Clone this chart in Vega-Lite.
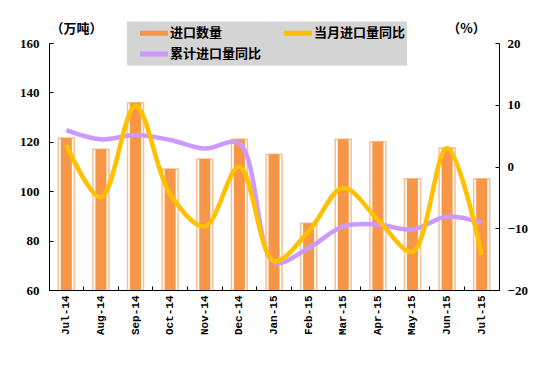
{
  "$schema": "https://vega.github.io/schema/vega-lite/v6.json",
  "width": 450,
  "height": 247,
  "autosize": {"type": "none"},
  "padding": {"left": 49, "top": 43, "right": 56, "bottom": 75},
  "background": "white",
  "config": {
    "view": {"stroke": null},
    "axis": {"domainColor": "black", "tickColor": "black", "labelColor": "black", "grid": false, "domainWidth": 1}
  },
  "datasets": {
    "bars": [
      {"month": "Jul-14", "qty": 121.5},
      {"month": "Aug-14", "qty": 117},
      {"month": "Sep-14", "qty": 135.8},
      {"month": "Oct-14", "qty": 109},
      {"month": "Nov-14", "qty": 113},
      {"month": "Dec-14", "qty": 121},
      {"month": "Jan-15", "qty": 115},
      {"month": "Feb-15", "qty": 87},
      {"month": "Mar-15", "qty": 121},
      {"month": "Apr-15", "qty": 120},
      {"month": "May-15", "qty": 105},
      {"month": "Jun-15", "qty": 117.5},
      {"month": "Jul-15", "qty": 105}
    ],
    "lines": [
      {"month": "Jul-14", "series": "累计进口量同比", "pct": 5.9},
      {"month": "Aug-14", "series": "累计进口量同比", "pct": 4.4},
      {"month": "Sep-14", "series": "累计进口量同比", "pct": 5.1},
      {"month": "Oct-14", "series": "累计进口量同比", "pct": 4.3},
      {"month": "Nov-14", "series": "累计进口量同比", "pct": 2.9},
      {"month": "Dec-14", "series": "累计进口量同比", "pct": 3.7},
      {"month": "Jan-15", "series": "累计进口量同比", "pct": -15.5},
      {"month": "Feb-15", "series": "累计进口量同比", "pct": -13.2},
      {"month": "Mar-15", "series": "累计进口量同比", "pct": -9.7},
      {"month": "Apr-15", "series": "累计进口量同比", "pct": -9.4},
      {"month": "May-15", "series": "累计进口量同比", "pct": -10.2},
      {"month": "Jun-15", "series": "累计进口量同比", "pct": -8.1},
      {"month": "Jul-15", "series": "累计进口量同比", "pct": -9.1},
      {"month": "Jul-14", "series": "当月进口量同比", "pct": 3.5},
      {"month": "Aug-14", "series": "当月进口量同比", "pct": -5},
      {"month": "Sep-14", "series": "当月进口量同比", "pct": 9.8},
      {"month": "Oct-14", "series": "当月进口量同比", "pct": -4.5},
      {"month": "Nov-14", "series": "当月进口量同比", "pct": -9.7},
      {"month": "Dec-14", "series": "当月进口量同比", "pct": 0},
      {"month": "Jan-15", "series": "当月进口量同比", "pct": -15.3},
      {"month": "Feb-15", "series": "当月进口量同比", "pct": -10.5},
      {"month": "Mar-15", "series": "当月进口量同比", "pct": -3.5},
      {"month": "Apr-15", "series": "当月进口量同比", "pct": -8.6},
      {"month": "May-15", "series": "当月进口量同比", "pct": -13.8},
      {"month": "Jun-15", "series": "当月进口量同比", "pct": 3},
      {"month": "Jul-15", "series": "当月进口量同比", "pct": -14.3}
    ]
  },
  "layer": [
    {
      "data": {"name": "bars"},
      "mark": {"type": "bar", "size": 16, "fill": "white", "stroke": "#FAC090", "strokeWidth": 1.5, "clip": true},
      "encoding": {
        "x": {
          "field": "month", "type": "nominal", "sort": null,
          "scale": {"paddingInner": 0, "paddingOuter": 0},
          "axis": {
            "title": null, "labelAngle": 270, "labelAlign": "right", "labelBaseline": "middle",
            "labelFont": "Liberation Mono", "labelFontWeight": "bold", "labelFontSize": 11,
            "bandPosition": 0, "tickSize": -4, "labelPadding": 9
          }
        },
        "y": {
          "field": "qty", "type": "quantitative",
          "scale": {"domain": [60, 160], "nice": false, "zero": false},
          "axis": {
            "orient": "left", "values": [60, 80, 100, 120, 140, 160], "tickSize": -4, "labelPadding": 14,
            "labelFont": "Liberation Serif", "labelFontWeight": "bold", "labelFontSize": 13,
            "title": "（万吨）", "titleAngle": 0, "titleX": 27, "titleY": -8, "titleAlign": "center",
            "titleFont": "Noto Sans CJK SC", "titleFontWeight": "bold", "titleFontSize": 13
          }
        }
      }
    },
    {
      "data": {"name": "bars"},
      "mark": {"type": "bar", "size": 11, "fill": "#F79646", "clip": true},
      "encoding": {
        "x": {"field": "month", "type": "nominal", "sort": null},
        "y": {
          "field": "qty", "type": "quantitative",
          "scale": {"domain": [60, 160], "nice": false, "zero": false},
          "axis": null
        }
      }
    },
    {
      "data": {"name": "lines"},
      "mark": {"type": "line", "strokeWidth": 4.5, "interpolate": "catmull-rom"},
      "encoding": {
        "x": {"field": "month", "type": "nominal", "sort": null},
        "y": {
          "field": "pct", "type": "quantitative",
          "scale": {"domain": [-20, 20], "nice": false},
          "axis": {
            "orient": "right", "values": [-20, -10, 0, 10, 20], "tickSize": -4, "labelPadding": 12,
            "labelFont": "Liberation Serif", "labelFontWeight": "bold", "labelFontSize": 13,
            "title": "（%）", "titleAngle": 0, "titleX": -33, "titleY": -8, "titleAlign": "center",
            "titleFont": "Noto Sans CJK SC", "titleFontWeight": "bold", "titleFontSize": 13
          }
        },
        "color": {
          "field": "series", "type": "nominal",
          "scale": {"domain": ["进口数量", "累计进口量同比", "当月进口量同比"], "range": ["#F79646", "#CC99FF", "#FFC000"]},
          "legend": {
            "orient": "none", "legendX": 78, "legendY": -21.5, "columns": 2, "title": null,
            "fillColor": "#D4D4D4", "padding": 1, "symbolType": "M0.19,0H3.69", "symbolStrokeWidth": 5,
            "symbolSize": 256, "labelFont": "Noto Sans CJK SC", "labelFontWeight": "bold",
            "labelFontSize": 13, "labelColor": "black", "columnPadding": 10, "rowPadding": -1, "labelOffset": 21
          }
        },
        "order": {"field": "series", "sort": "ascending"}
      }
    }
  ],
  "resolve": {"scale": {"y": "independent"}}
}
